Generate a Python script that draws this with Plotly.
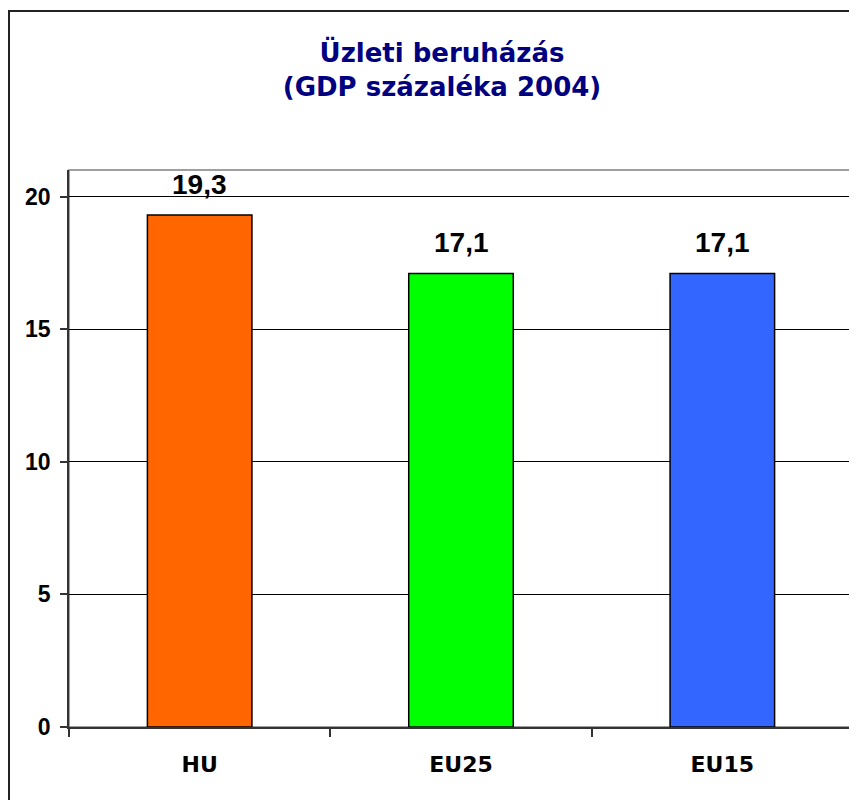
import plotly.graph_objects as go

categories = ["HU", "EU25", "EU15"]
values = [19.3, 17.1, 17.1]
value_labels = ["19,3", "17,1", "17,1"]
bar_colors = ["#FF6600", "#00FF00", "#3366FF"]
y_ticks = [0, 5, 10, 15, 20]
title_lines = ["Üzleti beruházás", "(GDP százaléka 2004)"]

# page is rendered with an 8px body margin
OFF = 8
W, H = 857, 800
L, T = 69 - OFF, 170 - OFF
R = W - (853 - OFF)
B = H - (727 - OFF)
pw, ph = W - L - R, H - T - B

fig = go.Figure()
fig.add_trace(go.Bar(
    x=categories, y=values, width=0.4,
    marker=dict(color=bar_colors, line=dict(color="#000000", width=1.5)),
    hoverinfo="skip",
))

for c, v, t in zip(categories, values, value_labels):
    fig.add_annotation(x=c, y=v, xref="x", yref="y", text=t, showarrow=False,
                       yanchor="bottom", yshift=13,
                       font=dict(family="Liberation Sans, Arial", size=28, color="#000000", weight="bold"))

frame_left = 9 - OFF
frame_top = 11 - OFF

fig.update_layout(
    width=W, height=H,
    margin=dict(l=L, r=R, t=T, b=B),
    paper_bgcolor="#FFFFFF", plot_bgcolor="#FFFFFF",
    showlegend=False,
    title=dict(text="<b>" + title_lines[0] + "<br>" + title_lines[1] + "</b>",
               x=(442 - OFF) / W, xanchor="center", y=1 - 54 / H, yanchor="middle",
               font=dict(family="DejaVu Sans, Verdana", size=26, color="#000080")),
    xaxis=dict(
        type="category", tickson="boundaries", ticks="outside", ticklen=8,
        tickcolor="#333333", tickwidth=1.5,
        showline=True, linecolor="#333333", linewidth=1.5,
        showgrid=False, ticklabelstandoff=17,
        tickfont=dict(family="DejaVu Sans, Verdana", size=22, color="#000000", weight="bold"),
    ),
    yaxis=dict(
        range=[0, 21], tickvals=y_ticks, ticktext=[str(v) for v in y_ticks],
        ticks="outside", ticklen=7, tickcolor="#333333", tickwidth=1.5,
        showline=True, linecolor="#333333", linewidth=1.5,
        showgrid=True, gridcolor="#000000", gridwidth=1,
        zeroline=False, ticklabelstandoff=5,
        tickfont=dict(family="Liberation Sans, Arial", size=23, color="#000000", weight="bold"),
    ),
    shapes=[
        dict(type="rect", xref="paper", yref="paper", x0=0, y0=0, x1=1, y1=1,
             line=dict(color="#808080", width=1.5), layer="below"),
        dict(type="rect", xref="paper", yref="paper",
             x0=(frame_left - L) / pw, x1=(W + 20 - L) / pw,
             y0=-(B + 20) / ph, y1=(ph + T - frame_top) / ph,
             line=dict(color="#222222", width=2), layer="below"),
    ],
)

fig.write_html("out.html")
